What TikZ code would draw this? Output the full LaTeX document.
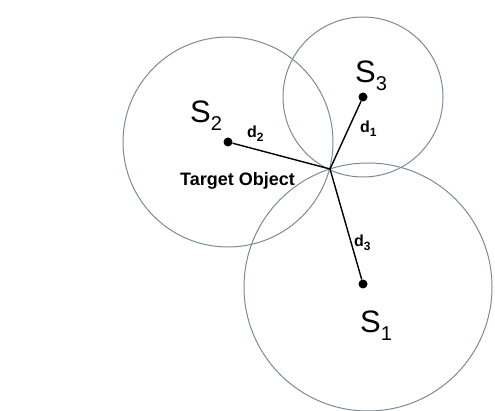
\documentclass[tikz,border=0pt]{standalone}
\usepackage{fontspec}
\setmainfont{Liberation Sans}
\definecolor{ringcol}{HTML}{7D8B96}
\newcommand{\bigS}[1]{{\fontsize{31}{31}\selectfont S}\raisebox{-8pt}{\fontsize{20}{20}\selectfont #1}}
\newcommand{\smalld}[1]{{\bfseries\fontsize{16}{16}\selectfont d}\raisebox{-4pt}{\bfseries\fontsize{12}{12}\selectfont #1}}
\begin{document}
\begin{tikzpicture}[x=1pt,y=-1pt,
  ring/.style={draw=ringcol, line width=1pt},
  link/.style={draw=black, line width=1.4pt},
  dotnode/.style={circle, fill=black, inner sep=0pt, minimum size=9pt},
  lbl/.style={anchor=base west, inner sep=0pt, text=black}]
\useasboundingbox (0,0) rectangle (495,411);
\coordinate (T) at (330,169);
\coordinate (c1) at (368,287);
\node[dotnode] (s2) at (228,142) {};
\node[dotnode] (s3) at (363,97) {};
\node[dotnode] (s1) at (363,284) {};
\draw[ring] (s2.center) circle (105pt);
\draw[ring] (s3.center) circle (80pt);
\draw[ring] (c1) circle (124pt);
\draw[link] (T) -- (s2);
\draw[link] (T) -- (s3);
\draw[link] (T) -- (s1);
\node[lbl] (l2) at (190,123) {\bigS{2}};
\node[lbl] (l3) at (355,83) {\bigS{3}};
\node[lbl] (l1) at (360,333) {\bigS{1}};
\node[lbl] (ld2) at (247,138) {\smalld{2}};
\node[lbl] (ld1) at (360,133) {\smalld{1}};
\node[lbl] (ld3) at (354,247) {\smalld{3}};
\node[lbl, font=\bfseries\fontsize{18}{18}\selectfont] (tgt) at (180,186) {Target Object};
\end{tikzpicture}
\end{document}
